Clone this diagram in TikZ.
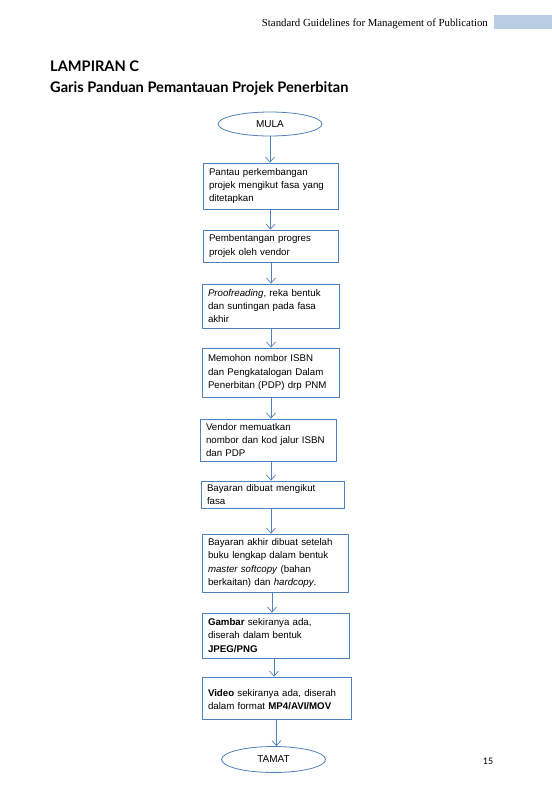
\documentclass[tikz,border=0pt]{standalone}
\usepackage{fontspec}
\setmainfont{Liberation Sans}
\newfontfamily\hdrfont{Liberation Serif}
\newfontfamily\ttlfont{Lato}
\newfontfamily\pgfont{Carlito}
\usetikzlibrary{arrows.meta,shapes.geometric}
\definecolor{lineblue}{HTML}{4F81BD}
\definecolor{hdrblue}{HTML}{B8CCE4}
\tikzset{
  stepbox/.style={draw=lineblue, line width=0.8pt, rectangle, align=left,
    inner xsep=6pt, inner ysep=2pt, font=\fontsize{9.7}{13.3}\selectfont},
  termnode/.style={draw=lineblue, line width=0.8pt, ellipse, inner sep=0pt,
    font=\fontsize{10}{12}\selectfont},
  arr/.style={draw=lineblue, line width=0.7pt, -{Straight Barb[length=5pt,width=9pt,line width=0.7pt]}}
}
\begin{document}
\begin{tikzpicture}[x=1pt,y=-1pt]
\useasboundingbox (0,0) rectangle (552,804);
\fill[white] (0,0) rectangle (552,804);
% header
\fill[hdrblue] (494,15) rectangle (552,29);
\node[anchor=base east, inner sep=0pt, font=\hdrfont\fontsize{10.8}{12}\selectfont] (hdr) at (488,26) {Standard Guidelines for Management of Publication};
% titles
\node[anchor=base west, inner sep=0pt, font=\ttlfont\bfseries\fontsize{14.6}{16}\selectfont] (t1) at (50,71) {LAMPIRAN C};
\node[anchor=base west, inner sep=0pt, font=\ttlfont\bfseries\fontsize{14.6}{16}\selectfont] (t2) at (50,92) {Garis Panduan Pemantauan Projek Penerbitan};
% flowchart
\node[termnode, minimum width=104pt, minimum height=24pt] (mula) at (270,124) {MULA};
\node[stepbox, text width=123pt, minimum height=46pt] (b1) at (270.5,186) {Pantau perkembangan\\projek mengikut fasa yang\\ditetapkan};
\node[stepbox, text width=123pt, minimum height=32pt] (b2) at (270.5,246) {Pembentangan progres\\projek oleh vendor};
\node[stepbox, text width=125pt, minimum height=44pt] (b3) at (270.5,306) {\textit{Proofreading}, reka bentuk\\dan suntingan pada fasa\\akhir};
\node[stepbox, text width=125pt, minimum height=49pt] (b4) at (270.5,372.5) {Memohon nombor ISBN\\dan Pengkatalogan Dalam\\Penerbitan (PDP) drp PNM};
\node[stepbox, text width=124pt, minimum height=42pt] (b5) at (268,440) {Vendor memuatkan\\nombor dan kod jalur ISBN\\dan PDP};
\node[stepbox, text width=131pt, minimum height=27pt] (b6) at (272.5,494.5) {Bayaran dibuat mengikut\\fasa};
\node[stepbox, text width=134pt, minimum height=58pt] (b7) at (275,563) {Bayaran akhir dibuat setelah\\buku lengkap dalam bentuk\\\textit{master softcopy} (bahan\\berkaitan) dan \textit{hardcopy}.};
\node[stepbox, text width=135pt, minimum height=45pt] (b8) at (275.5,635.5) {\textbf{Gambar} sekiranya ada,\\diserah dalam bentuk\\\textbf{JPEG/PNG}};
\node[stepbox, text width=137pt, minimum height=42pt, text depth=10pt] (b9) at (276.5,698) {\textbf{Video} sekiranya ada, diserah\\dalam format \textbf{MP4/AVI/MOV}};
\node[termnode, minimum width=104pt, minimum height=26pt] (tamat) at (273.5,759.5) {TAMAT};
% connectors
\draw[arr] (mula.south) -- (mula.south |- b1.north);
\draw[arr] (b1.south) -- (b1.south |- b2.north);
\draw[arr] ([xshift=0.5pt]b2.south) -- ([xshift=0.5pt]b2.south |- b3.north);
\draw[arr] ([xshift=0.5pt]b3.south) -- ([xshift=0.5pt]b3.south |- b4.north);
\draw[arr] ([xshift=0.5pt]b4.south) -- ([xshift=0.5pt]b4.south |- b5.north);
\draw[arr] ([xshift=3pt]b5.south) -- ([xshift=3pt]b5.south |- b6.north);
\draw[arr] ([xshift=-1.5pt]b6.south) -- ([xshift=-1.5pt]b6.south |- b7.north);
\draw[arr] ([xshift=-3pt]b7.south) -- ([xshift=-3pt]b7.south |- b8.north);
\draw[arr] ([xshift=-1.5pt]b8.south) -- ([xshift=-1.5pt]b8.south |- b9.north);
\draw[arr] (b9.south) -- (b9.south |- tamat.north);
% page number
\node[anchor=base, inner sep=0pt, font=\pgfont\fontsize{10}{12}\selectfont] (pg) at (488,764) {15};
\end{tikzpicture}
\end{document}
